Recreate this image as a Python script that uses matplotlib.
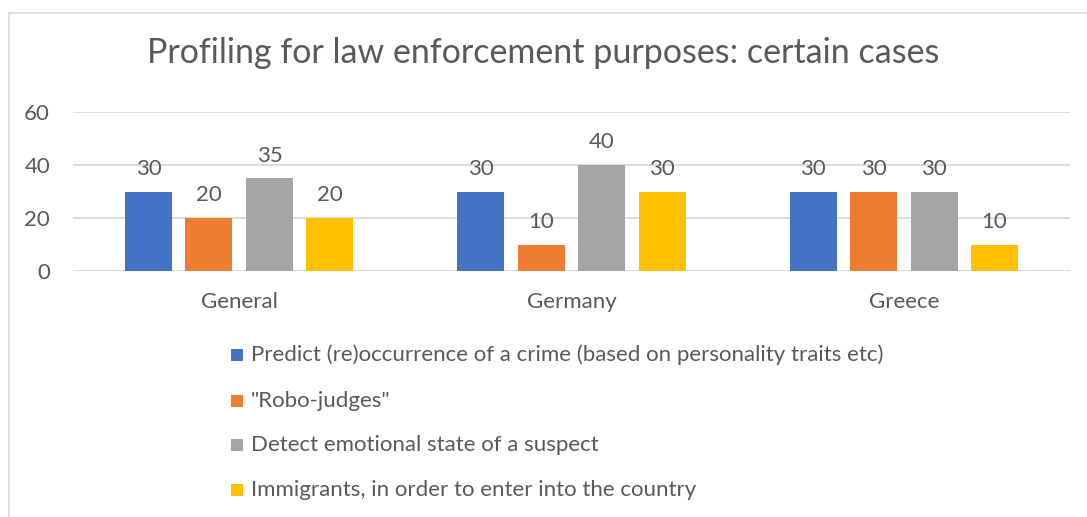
import matplotlib
matplotlib.use("Agg")
import matplotlib.pyplot as plt
from matplotlib.patches import Rectangle
import numpy as np

categories = ["General", "Germany", "Greece"]
series_names = [
    "Predict (re)occurrence of a crime (based on personality traits etc)",
    "\"Robo-judges\"",
    "Detect emotional state of a suspect",
    "Immigrants, in order to enter into the country",
]
predict = [30, 30, 30]
robo = [20, 10, 30]
emotional = [35, 40, 30]
immigrants = [20, 30, 10]
series_values = [predict, robo, emotional, immigrants]
colors = ["#4472C4", "#ED7D31", "#A5A5A5", "#FFC000"]
yticks = [0, 20, 40, 60]

plt.rcParams['font.family'] = ['Lato', 'DejaVu Sans']
TXT = "#595959"
FS = 16

W, H = 1087, 517
fig = plt.figure(figsize=(W / 100, H / 100), dpi=100)
fig.patch.set_facecolor("white")

# chart frame
fig.patches.append(Rectangle((9 / W, -0.05), 1.2, 1 - 13 / H + 0.05, transform=fig.transFigure,
                             fill=False, edgecolor="#d9d9d9", linewidth=1.2))

ax_l, ax_r = 73 / W, 1070 / W
y0, y60 = 271, 112
ax = fig.add_axes([ax_l, 1 - y0 / H, ax_r - ax_l, (y0 - y60) / H])
ax.set_xlim(-0.5, 2.5)
ax.set_ylim(0, 60)
for s in ax.spines.values():
    s.set_visible(False)
ax.set_yticks(yticks)
ax.yaxis.grid(True, color="#d9d9d9", linewidth=1.3)
ax.set_axisbelow(True)
ax.tick_params(axis="both", length=0, colors=TXT, labelsize=FS)
ax.tick_params(axis="y", pad=16.5)
ax.tick_params(axis="x", pad=15)
ax.set_xticks(range(len(categories)))
ax.set_xticklabels(categories)

x = np.arange(len(categories))
bw = 0.1416
step = 0.182
for i, (vals, c) in enumerate(zip(series_values, colors)):
    pos = x + (i - 1.5) * step
    ax.bar(pos, vals, width=bw, color=c, label=series_names[i], zorder=2)
    for p, v in zip(pos, vals):
        ax.text(p, v + 4.8, str(v), ha="center", va="bottom", fontsize=FS, color=TXT)

fig.text(0.5, 1 - 53 / H, "Profiling for law enforcement purposes: certain cases",
         ha="center", va="center", fontsize=24.5, color=TXT)

leg_y = [355, 401, 445, 490]
for name, c, yy in zip(series_names, colors, leg_y):
    fig.patches.append(Rectangle((231 / W, 1 - (yy + 6) / H), 12 / W, 12 / H,
                                 transform=fig.transFigure, facecolor=c, edgecolor="none"))
    fig.text(251 / W, 1 - yy / H, name, ha="left", va="center", fontsize=FS, color=TXT)

fig.savefig("out.png", dpi=100)
